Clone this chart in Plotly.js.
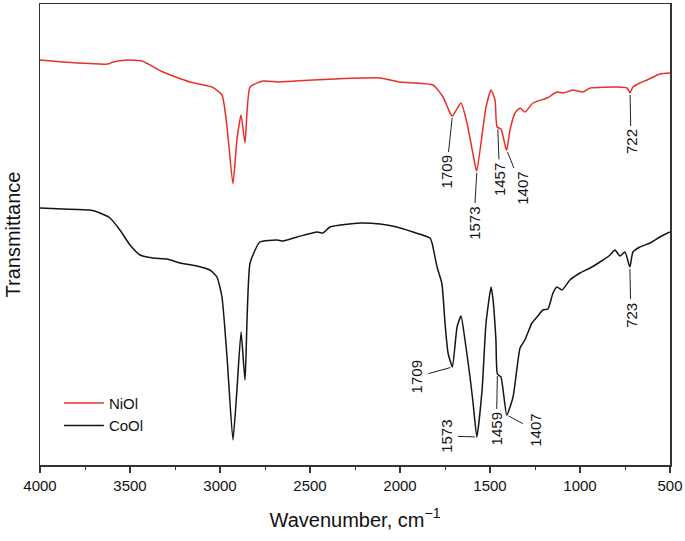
<!DOCTYPE html>
<html>
<head>
<meta charset="utf-8">
<script src="https://cdn.plot.ly/plotly-3.0.1.min.js"></script>
<style>
  html, body { margin: 0; padding: 0; background: #fff; }
  #ftir { width: 685px; height: 541px; }
</style>
</head>
<body>
<div id="ftir"></div>
<script>
// FTIR spectra, transmittance in arbitrary units
var niWn = [4000,3872,3622,3594,3517,3433,3317,3167,3044,2989,2961,2928,2906,2883,2861,2833,2761,2667,2483,2111,
  2000,1817,1761,1722,1709,1661,1628,1578,1573,1522,1494,1472,1461,1439,1411,1407,1389,1361,1333,1306,1261,1183,1128,1094,1039,983,944,794,739,728,722,706,667,628,556,500];
var niT = [405,403,401,403,405,404,393,383,378,370,338,281,325,350,322,378,384,383,385,387,
  383,380,368,352,349,362,342,296,294,358,375,365,338,336,316,315,335,352,357,353,362,367,373,372,375,373,377,378,377,374,372,378,382,385,391,392];

var coWn = [4000,3872,3722,3667,3611,3556,3500,3444,3372,3294,3222,3128,3056,3017,2989,2961,2928,2906,2883,2861,2833,2778,2683,2650,2572,2461,2428,2389,2222,2111,2017,
  1928,1833,1822,1794,1767,1750,1733,1709,1683,1661,1639,1611,1594,1573,1544,1522,1494,1483,1467,1459,1439,1407,1372,1333,1306,1267,1239,1206,1178,1150,1128,1100,1056,1000,944,889,833,806,778,750,723,706,667,611,556,500];
var coT = [257,256,255,252,247,235,220,210,207,206,202,199,195,188,168,108,25,75,133,85,202,223,225,224,228,233,232,238,242,241,238,
  233,227,222,198,181,142,112,98,138,149,125,88,62,28,75,142,178,165,125,91,88,50,68,117,125,142,148,155,156,172,178,175,185,192,197,203,210,215,209,213,198,213,218,222,228,233];

var niPeaks = [1709, 1573, 1457, 1407, 722];
var coPeaks = [1709, 1573, 1459, 1407, 723];

// label offsets (px) from the band to the text centre
var niOff = [[-6,56],[-3,52],[2,52],[15,38],[1,49]];
var coOff = [[-36,10],[-31,-1],[-1,55],[28,15],[1,48]];

function valueAt(wn, ys, w) {
  for (var i = 0; i < wn.length - 1; i++) {
    if (w <= wn[i] && w >= wn[i+1]) {
      var f = (wn[i] - w) / (wn[i] - wn[i+1]);
      return ys[i] + f * (ys[i+1] - ys[i]);
    }
  }
  return ys[ys.length-1];
}

var FONT = 'Liberation Sans, Arial, sans-serif';

var ni = {
  x: niWn, y: niT, name: 'NiOl', type: 'scatter', mode: 'lines',
  line: {color: '#e8302a', width: 1.5, shape: 'spline', smoothing: 0.5}
};
var co = {
  x: coWn, y: coT, name: 'CoOl', type: 'scatter', mode: 'lines',
  line: {color: '#151515', width: 1.5, shape: 'spline', smoothing: 0.5}
};

var notes = [];
function addNotes(peaks, off, wn, ys) {
  peaks.forEach(function(p, i) {
    notes.push({
      x: p, y: valueAt(wn, ys, p), xref: 'x', yref: 'y',
      text: String(p), textangle: -90,
      font: {family: FONT, size: 15, color: '#111'},
      showarrow: true, arrowhead: 0, arrowwidth: 1, arrowcolor: '#222',
      ax: off[i][0], ay: off[i][1], standoff: 2, borderpad: 3
    });
  });
}
addNotes(niPeaks, niOff, niWn, niT);
addNotes(coPeaks, coOff, coWn, coT);

var layout = {
  width: 685, height: 541,
  margin: {l: 40, r: 15, t: 4, b: 76},
  paper_bgcolor: '#fff', plot_bgcolor: '#fff',
  font: {family: FONT, size: 15, color: '#111'},
  showlegend: true,
  legend: {x: 0.03, y: 0.17, xanchor: 'left', yanchor: 'top', bgcolor: 'rgba(0,0,0,0)',
    font: {family: FONT, size: 15}, itemwidth: 40, tracegroupgap: 0},
  xaxis: {
    range: [4000, 500], autorange: false,
    tickvals: [4000,3500,3000,2500,2000,1500,1000,500],
    ticks: 'outside', ticklen: 6, tickwidth: 1.2, tickcolor: '#333',
    minor: {dtick: 250, ticks: 'outside', ticklen: 3, tickwidth: 1, tickcolor: '#333'},
    showline: true, linecolor: '#333', linewidth: 1.5, mirror: true,
    showgrid: false, zeroline: false,
    tickfont: {family: FONT, size: 15, color: '#111'},
    title: {text: 'Wavenumber, cm<sup>\u22121</sup>', font: {family: FONT, size: 20, color: '#111'}, standoff: 20}
  },
  yaxis: {
    range: [0, 461], autorange: false,
    showticklabels: false, ticks: '',
    showline: true, linecolor: '#333', linewidth: 1.5, mirror: true,
    showgrid: false, zeroline: false,
    title: {text: 'Transmittance', font: {family: FONT, size: 20, color: '#111'}, standoff: 12}
  },
  annotations: notes
};

Plotly.newPlot('ftir', [ni, co], layout, {displayModeBar: false, staticPlot: true});
</script>
</body>
</html>
